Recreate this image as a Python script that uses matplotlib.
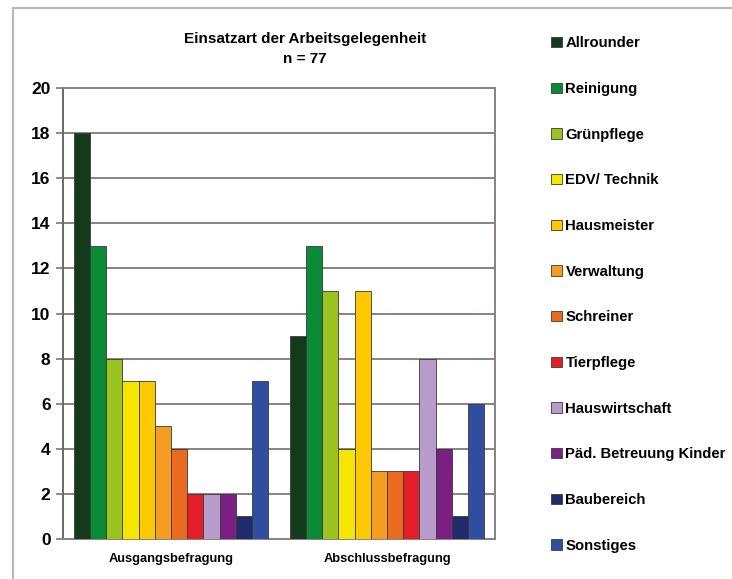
import numpy as np
import matplotlib
matplotlib.use('Agg')
import matplotlib.pyplot as plt
from matplotlib.patches import Rectangle, Patch

# survey waves on the x axis
waves = ["Ausgangsbefragung", "Abschlussbefragung"]

# kinds of work placement
kinds = ["Allrounder", "Reinigung", "Grünpflege", "EDV/ Technik", "Hausmeister",
         "Verwaltung", "Schreiner", "Tierpflege", "Hauswirtschaft",
         "Päd. Betreuung Kinder", "Baubereich", "Sonstiges"]

# counts per kind for each wave
ausgang = [18, 13, 8, 7, 7, 5, 4, 2, 2, 2, 1, 7]
abschluss = [9, 13, 11, 4, 11, 3, 3, 3, 8, 4, 1, 6]

colors = ["#143a1c", "#0b8a36", "#9bc320", "#f5e600", "#fcc800", "#f49d20",
          "#ea6a20", "#e41e28", "#b79ccb", "#7c1f82", "#1f2c6c", "#2f4e9f"]

plt.rcParams['font.family'] = ['Liberation Sans', 'DejaVu Sans']

fig = plt.figure(figsize=(7.32, 5.79), dpi=100)
ax = fig.add_axes([63 / 732, 40 / 579, 432 / 732, 451 / 579])

# light frame around the whole chart area
fig.patches.append(Rectangle((13 / 732, -0.1), 1.2, (571 / 579) + 0.1,
                             transform=fig.transFigure, fill=False,
                             edgecolor="#b8b8b8", linewidth=1.5))

values = np.array([ausgang, abschluss])
n = len(kinds)
width = 0.9 / n
x = np.arange(len(waves))
for i, kind in enumerate(kinds):
    offs = -0.45 + width * (i + 0.5)
    ax.bar(x + offs, values[:, i], width, color=colors[i],
           edgecolor="#3a3a3a", linewidth=0.6, label=kind, zorder=3)

ax.set_xlim(-0.5, 1.5)
ax.set_ylim(0, 20)
ax.set_yticks(range(0, 21, 2))
ax.set_xticks(x)
ax.set_xticklabels(waves, fontsize=9.3, fontweight="bold")
ax.tick_params(axis="x", length=0, pad=10)
ax.tick_params(axis="y", labelsize=12.5, length=5, width=1.2, color="#777777", pad=4)
for lbl in ax.get_yticklabels():
    lbl.set_fontweight("bold")
ax.yaxis.grid(True, color="#8a8282", linewidth=1.4, zorder=0)
for side, sp in ax.spines.items():
    sp.set_color("#8a8282")
    sp.set_linewidth(1.4)
ax.spines["left"].set_color("#6e6868")

ax.set_title("Einsatzart der Arbeitsgelegenheit\nn = 77", fontsize=11,
             fontweight="bold", pad=18, x=0.56, linespacing=1.5)

handles = [Patch(facecolor=c, edgecolor="#3a3a3a", linewidth=0.6) for c in colors]
fig.legend(handles, kinds, loc="upper left", bbox_to_anchor=(538 / 732, 1 - 23 / 579),
           frameon=False, handlelength=0.7, handleheight=0.7, handletextpad=0.25,
           labelspacing=2.13, prop={"size": 10.7, "weight": "bold"})

fig.savefig("out.png", dpi=100)
